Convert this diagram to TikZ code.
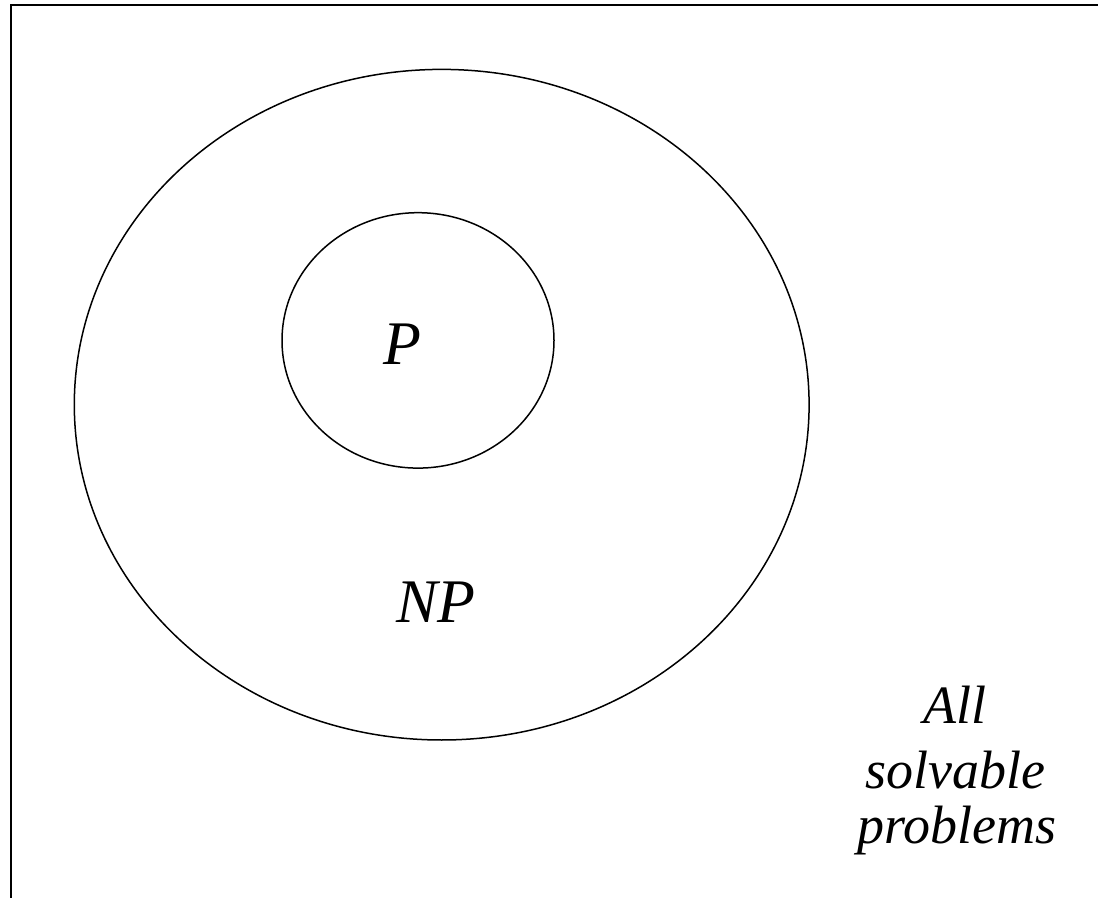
\documentclass[tikz,border=0pt]{standalone}
\usepackage{fontspec}
\setmainfont{Liberation Serif}

\begin{document}
\begin{tikzpicture}[x=0.5pt,y=-0.5pt,big/.style={font=\fontsize{31}{37}\selectfont\itshape,inner sep=0pt,anchor=base},small/.style={font=\fontsize{27}{32}\selectfont\itshape,inner sep=0pt,anchor=base}]
\useasboundingbox (0,0) rectangle (1098,898);
\draw[line width=1pt] (10.5,898)--(10.5,5.3)--(1098,5.3);
\draw[line width=0.75pt] (441.7,404.7) ellipse [x radius=367.4,y radius=335.3];
\draw[line width=0.75pt] (418,340.4) ellipse [x radius=136,y radius=127.7];
\node[big] (p) at (402,365){P};
\node[big] (np) at (436,622){NP};
\node[small] (all) at (955,723){All};\node[small] (solv) at (955,788){solvable};\node[small] (probs) at (957,843){problems};
\end{tikzpicture}
\end{document}
